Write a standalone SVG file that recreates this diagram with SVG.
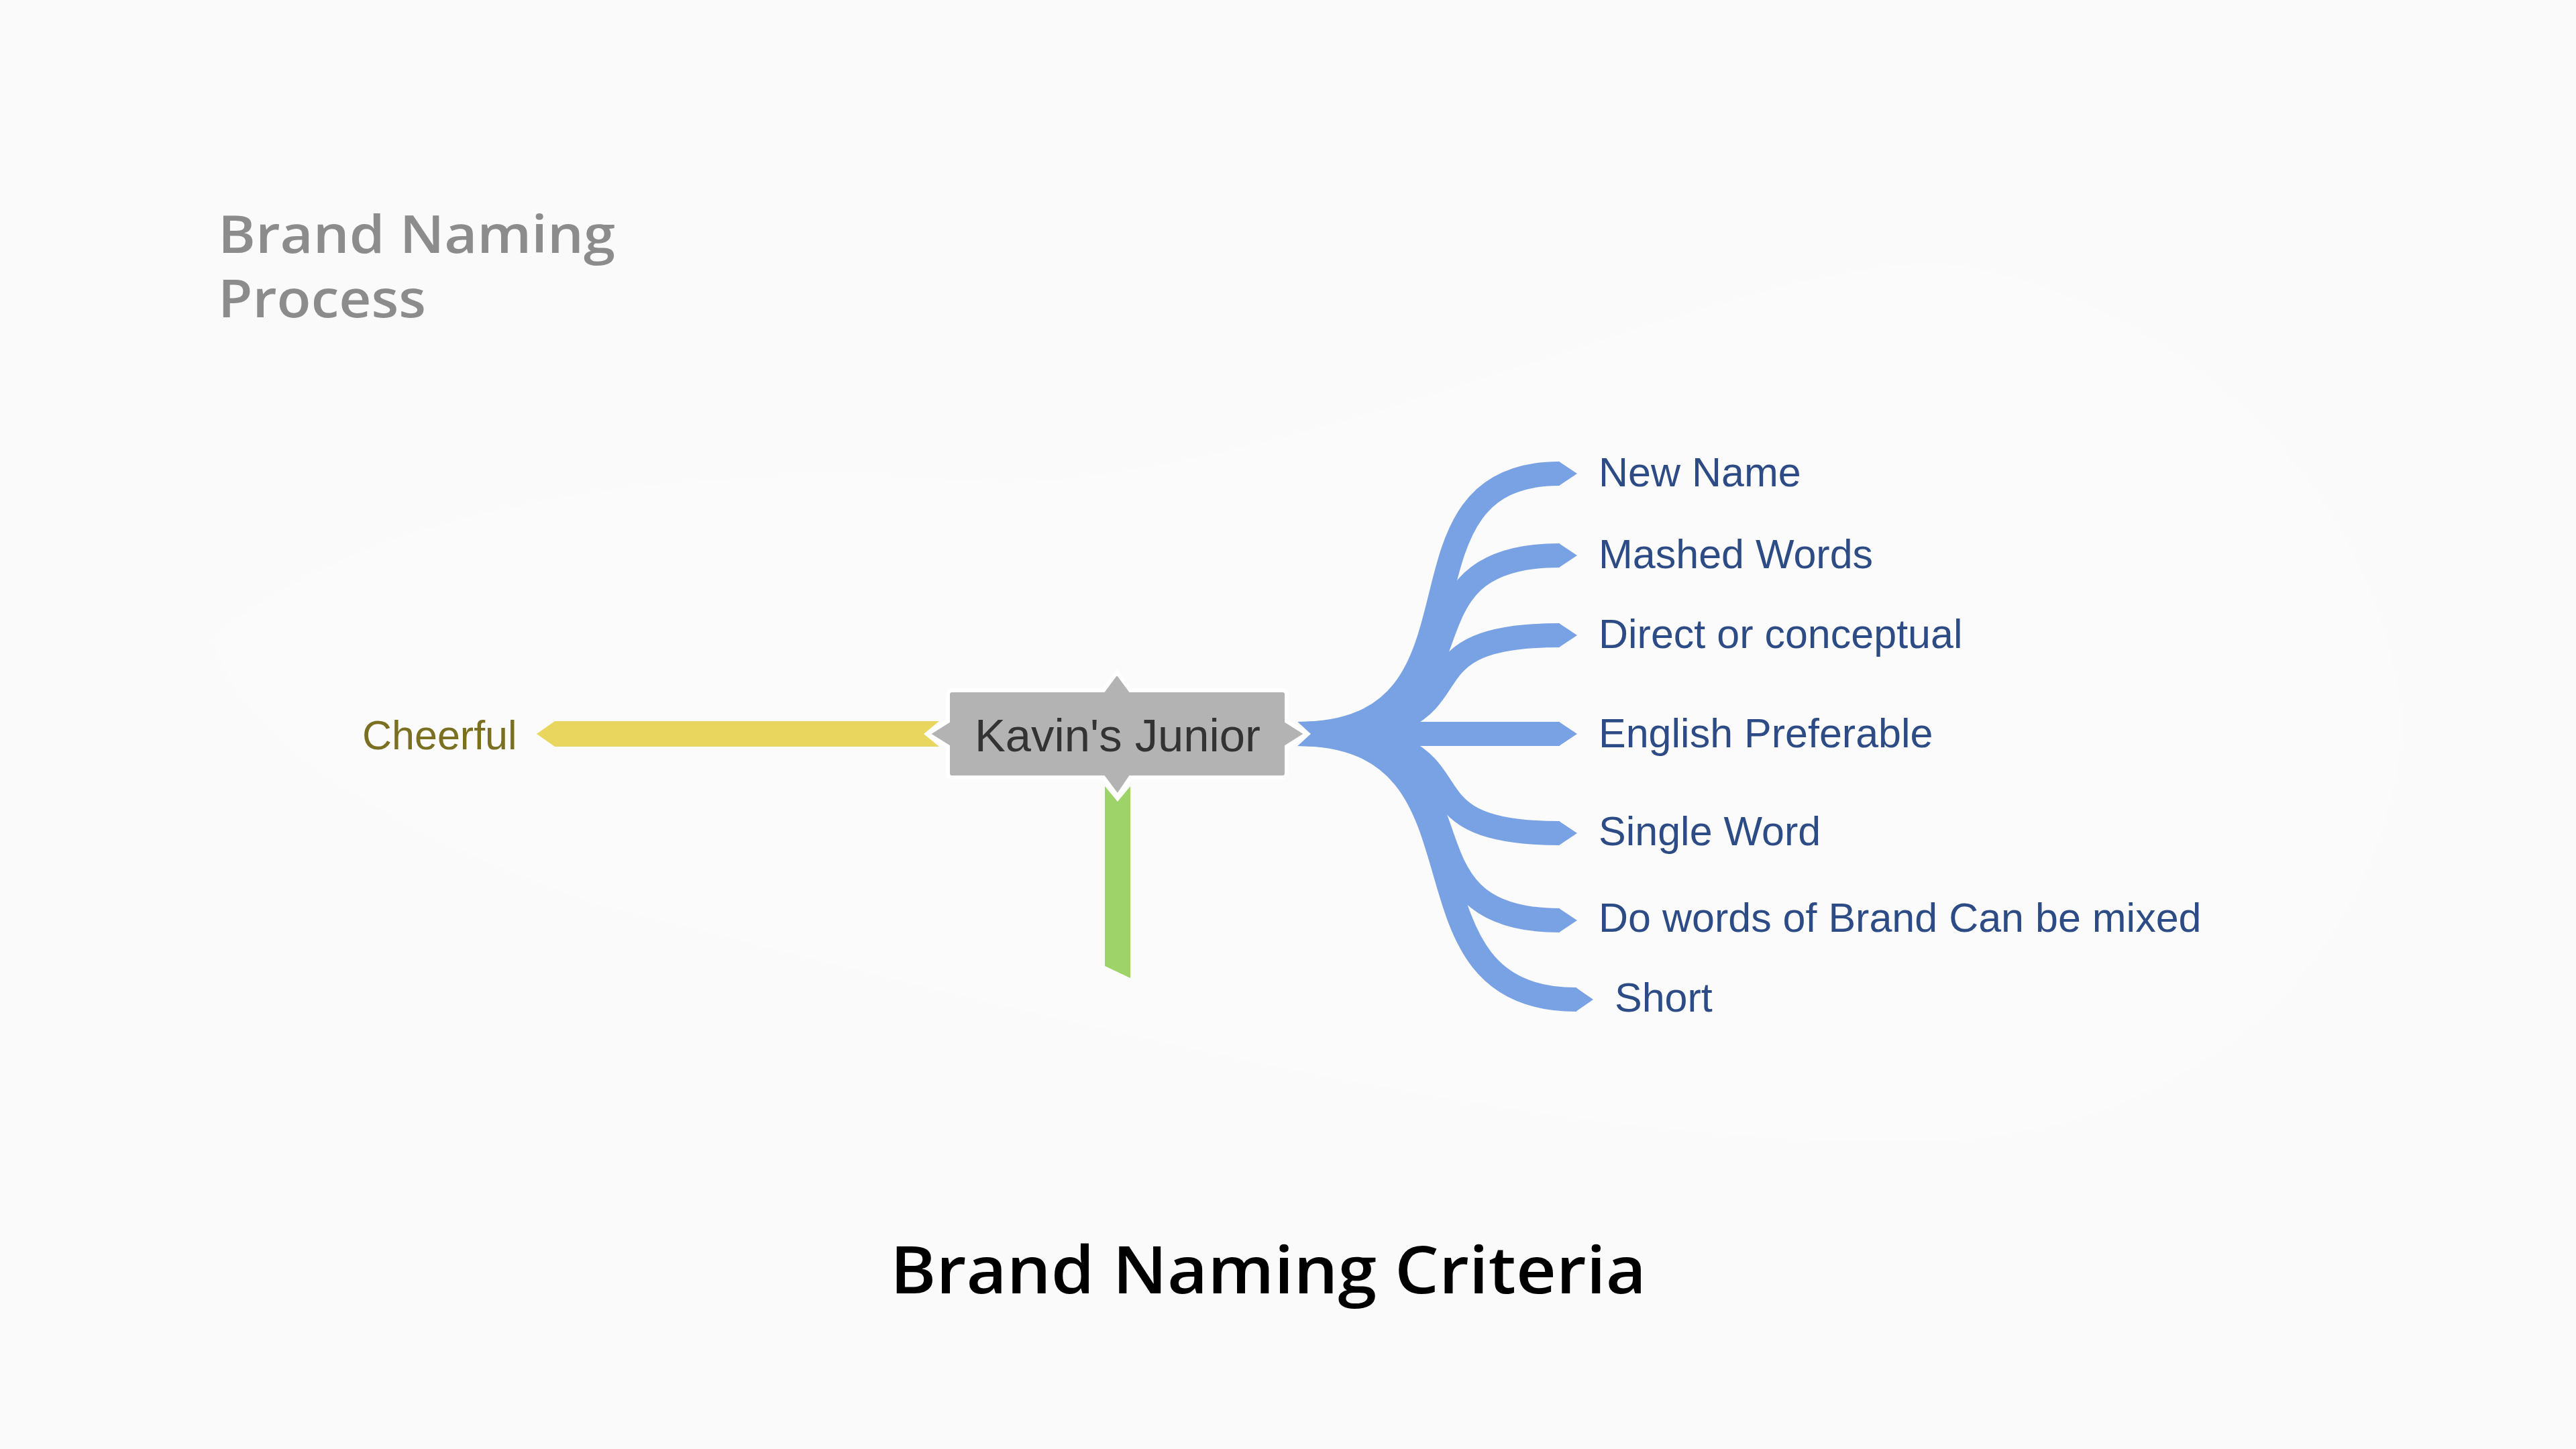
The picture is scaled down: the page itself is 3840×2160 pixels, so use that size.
<svg xmlns="http://www.w3.org/2000/svg" width="3840" height="2160" viewBox="0 0 3840 2160">
<style>
.title{font-family:"Open Sans","Liberation Sans",sans-serif}
.lbl{font-family:"Liberation Sans",Arial,sans-serif;font-size:61px;fill:#2d4c86}
.br{fill:none;stroke:#79a2e4;stroke-width:36;stroke-linecap:butt}
.tip{fill:#79a2e4}
</style>
<rect width="3840" height="2160" fill="#fafafa"/>
<path d="M318,950 C600,720 1100,690 1500,720 C2000,700 2600,380 2900,394 C3200,430 3550,700 3580,1080 C3560,1400 3300,1680 2900,1700 C2300,1720 1500,1500 900,1350 C600,1250 350,1100 318,950 Z" fill="#fbfbfb"/>
<g id="title-process">
<text class="title" x="325" y="377" font-size="77" font-weight="600" fill="#8c8c8c" textLength="592" lengthAdjust="spacingAndGlyphs">Brand Naming</text>
<text class="title" x="325" y="473" font-size="77" font-weight="600" fill="#8c8c8c" textLength="310" lengthAdjust="spacingAndGlyphs">Process</text>
</g>
<g id="connectors">
<polygon points="800,1094 827,1075 1400,1075 1377,1094 1400,1113 827,1113" fill="#e9d65f"/>
<polygon points="1647,1172 1666,1195 1685,1172 1685,1458 1647,1440" fill="#9ed36a"/>
<path class="br" d="M1933,1094 C2250,1094 2050,706 2325,706"/>
<path class="br" d="M1933,1094 C2250,1094 2050,828 2325,828"/>
<path class="br" d="M1933,1094 C2250,1094 2050,947 2325,947"/>
<path class="br" d="M1933,1094 H2325"/>
<path class="br" d="M1933,1094 C2250,1094 2050,1242 2325,1242"/>
<path class="br" d="M1933,1094 C2250,1094 2050,1372 2325,1372"/>
<path class="br" d="M1933,1094 C2250,1094 2060,1490 2350,1490"/>
<polygon class="tip" points="2324,688 2351,706 2324,724"/>
<polygon class="tip" points="2324,810 2351,828 2324,846"/>
<polygon class="tip" points="2324,929 2351,947 2324,965"/>
<polygon class="tip" points="2324,1076 2351,1094 2324,1112"/>
<polygon class="tip" points="2324,1224 2351,1242 2324,1260"/>
<polygon class="tip" points="2324,1354 2351,1372 2324,1390"/>
<polygon class="tip" points="2349,1472 2375,1490 2349,1508"/>
<polygon points="1931,1073 1954,1094 1931,1115" fill="#fafafa"/>
</g>
<g id="node-center">
<path d="M1419,1029 H1645 L1665,1002 L1685,1029 H1912 Q1918,1029 1918,1035 V1075 L1948,1094 L1918,1113 V1153 Q1918,1159 1912,1159 H1685 L1666,1187 L1645,1159 H1419 Q1413,1159 1413,1153 V1113 L1383,1094 L1413,1075 V1035 Q1413,1029 1419,1029 Z" fill="#b3b3b3" stroke="#ffffff" stroke-width="6" stroke-linejoin="miter"/>
<text x="1666" y="1120" text-anchor="middle" font-family="Liberation Sans, Arial, sans-serif" font-size="69" fill="#333333" textLength="426" lengthAdjust="spacingAndGlyphs">Kavin's Junior</text>
</g>
<g id="node-cheerful">
<text x="540" y="1117" font-family="Liberation Sans, Arial, sans-serif" font-size="61" fill="#7b6f22">Cheerful</text>
</g>
<g id="node-new-name"><text class="lbl" x="2383" y="725">New Name</text></g>
<g id="node-mashed-words"><text class="lbl" x="2383" y="847">Mashed Words</text></g>
<g id="node-direct"><text class="lbl" x="2383" y="966">Direct or conceptual</text></g>
<g id="node-english"><text class="lbl" x="2383" y="1114">English Preferable</text></g>
<g id="node-single-word"><text class="lbl" x="2383" y="1260">Single Word</text></g>
<g id="node-do-words"><text class="lbl" x="2383" y="1389">Do words of Brand Can be mixed</text></g>
<g id="node-short"><text class="lbl" x="2407" y="1508">Short</text></g>
<g id="title-criteria">
<text class="title" x="1327" y="1928" font-size="98" font-weight="600" fill="#000000" textLength="1127" lengthAdjust="spacingAndGlyphs">Brand Naming Criteria</text>
</g>
</svg>
